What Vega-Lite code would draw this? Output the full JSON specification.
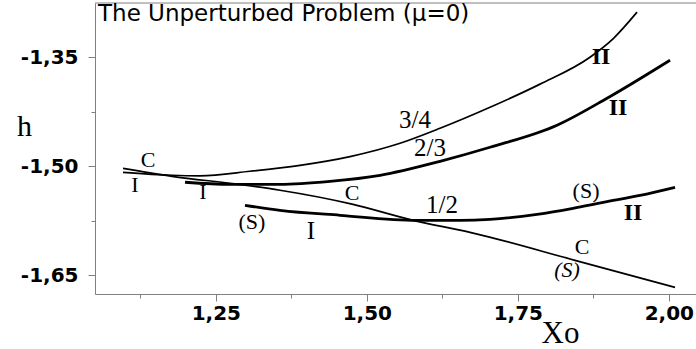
{
  "$schema": "https://vega.github.io/schema/vega-lite/v6.json",
  "width": 601,
  "height": 291,
  "autosize": {"type": "none"},
  "padding": {"left": 95, "top": 3, "right": 0, "bottom": 55},
  "background": "white",
  "config": {"view": {"stroke": null}},
  "datasets": {
    "curves": [
      {"curve": "C", "x": 1.0964, "y": -1.5027},
      {"curve": "C", "x": 1.1775, "y": -1.5137},
      {"curve": "C", "x": 1.2868, "y": -1.5247},
      {"curve": "C", "x": 1.3563, "y": -1.5329},
      {"curve": "C", "x": 1.4755, "y": -1.5520},
      {"curve": "C", "x": 1.5765, "y": -1.5742},
      {"curve": "C", "x": 1.6709, "y": -1.5907},
      {"curve": "C", "x": 1.8447, "y": -1.6292},
      {"curve": "C", "x": 2.0103, "y": -1.6664},
      {"curve": "3/4", "x": 1.0964, "y": -1.5082},
      {"curve": "3/4", "x": 1.1775, "y": -1.5123},
      {"curve": "3/4", "x": 1.2238, "y": -1.5130},
      {"curve": "3/4", "x": 1.3066, "y": -1.5068},
      {"curve": "3/4", "x": 1.3894, "y": -1.4986},
      {"curve": "3/4", "x": 1.4722, "y": -1.4866},
      {"curve": "3/4", "x": 1.5550, "y": -1.4683},
      {"curve": "3/4", "x": 1.6212, "y": -1.4477},
      {"curve": "3/4", "x": 1.7040, "y": -1.4188},
      {"curve": "3/4", "x": 1.7868, "y": -1.3870},
      {"curve": "3/4", "x": 1.8695, "y": -1.3500},
      {"curve": "3/4", "x": 1.9085, "y": -1.3240},
      {"curve": "3/4", "x": 1.9474, "y": -1.2881},
      {"curve": "2/3", "x": 1.1990, "y": -1.5219},
      {"curve": "2/3", "x": 1.2735, "y": -1.5247},
      {"curve": "2/3", "x": 1.3563, "y": -1.5247},
      {"curve": "2/3", "x": 1.4391, "y": -1.5206},
      {"curve": "2/3", "x": 1.5219, "y": -1.5123},
      {"curve": "2/3", "x": 1.6212, "y": -1.4931},
      {"curve": "2/3", "x": 1.7040, "y": -1.4738},
      {"curve": "2/3", "x": 1.8149, "y": -1.4435},
      {"curve": "2/3", "x": 1.8977, "y": -1.4064},
      {"curve": "2/3", "x": 2.0020, "y": -1.3541},
      {"curve": "1/2", "x": 1.2983, "y": -1.5536},
      {"curve": "1/2", "x": 1.3563, "y": -1.5605},
      {"curve": "1/2", "x": 1.4556, "y": -1.5673},
      {"curve": "1/2", "x": 1.5831, "y": -1.5742},
      {"curve": "1/2", "x": 1.6543, "y": -1.5742},
      {"curve": "1/2", "x": 1.7040, "y": -1.5728},
      {"curve": "1/2", "x": 1.7818, "y": -1.5660},
      {"curve": "1/2", "x": 1.8414, "y": -1.5577},
      {"curve": "1/2", "x": 1.8911, "y": -1.5495},
      {"curve": "1/2", "x": 1.9523, "y": -1.5399},
      {"curve": "1/2", "x": 2.0103, "y": -1.5288}
    ],
    "labels": [
      {"text": "C", "style": "normal", "x": 1.1377, "y": -1.4917},
      {"text": "I", "style": "normal", "x": 1.1162, "y": -1.5261},
      {"text": "I", "style": "normal", "x": 1.2288, "y": -1.5357},
      {"text": "(S)", "style": "normal", "x": 1.3099, "y": -1.5770},
      {"text": "C", "style": "normal", "x": 1.4755, "y": -1.5371},
      {"text": "(S)", "style": "normal", "x": 1.8629, "y": -1.5343},
      {"text": "C", "style": "normal", "x": 1.8563, "y": -1.6110},
      {"text": "I", "style": "big", "x": 1.4076, "y": -1.5893},
      {"text": "1/2", "style": "big", "x": 1.6245, "y": -1.5536},
      {"text": "3/4", "style": "big", "x": 1.5798, "y": -1.4367},
      {"text": "2/3", "style": "big", "x": 1.6046, "y": -1.4752},
      {"text": "II", "style": "bold", "x": 1.8877, "y": -1.3500},
      {"text": "II", "style": "bold", "x": 1.9159, "y": -1.4202},
      {"text": "II", "style": "bold", "x": 1.9407, "y": -1.5646},
      {"text": "(S)", "style": "italic", "x": 1.8315, "y": -1.6420}
    ],
    "title": [
      {"text": "The Unperturbed Problem (μ=0)", "x": 1.055, "y": -1.3005}
    ],
    "frame": [{"top": -1.2755}]
  },
  "layer": [
    {
      "data": {"name": "curves"},
      "transform": [{"filter": "datum.curve == 'C' || datum.curve == '3/4'"}],
      "mark": {"type": "line", "interpolate": "monotone", "color": "black", "strokeWidth": 1.7},
      "encoding": {
        "x": {
          "field": "x", "type": "quantitative",
          "scale": {"domain": [1.05, 2.045], "nice": false, "zero": false},
          "axis": {
            "values": [1.125, 1.25, 1.375, 1.5, 1.625, 1.75, 1.875, 2.0],
            "labelExpr": "(round(datum.value*1000) % 250 == 0) ? replace(format(datum.value, '.2f'), '.', ',') : ''",
            "tickSize": {"condition": {"test": "round(datum.value*1000) % 250 == 0", "value": 7}, "value": 4},
            "grid": false,
            "title": "Xo",
            "titleFont": "Liberation Serif",
            "titleFontSize": 31,
            "titleFontWeight": "normal",
            "titleColor": "black",
            "titleX": 465,
            "titleY": 48,
            "titleAlign": "center",
            "titleBaseline": "alphabetic",
            "labelFont": "DejaVu Sans",
            "labelFontWeight": "bold",
            "labelFontSize": 20,
            "labelColor": "black",
            "labelPadding": 2,
            "labelFlush": false,
            "labelOverlap": false,
            "domainColor": "#808080",
            "tickColor": "#808080"
          }
        },
        "y": {
          "field": "y", "type": "quantitative",
          "scale": {"domain": [-1.6755, -1.2755], "nice": false, "zero": false},
          "axis": {
            "values": [-1.65, -1.575, -1.5, -1.425, -1.35],
            "labelExpr": "(round(datum.value*1000) % 150 == 0) ? '-' + replace(format(abs(datum.value), '.2f'), '.', ',') : ''",
            "tickSize": {"condition": {"test": "round(datum.value*1000) % 150 == 0", "value": 7}, "value": 4},
            "grid": false,
            "title": "h",
            "titleAngle": 0,
            "titleFont": "Liberation Serif",
            "titleFontSize": 30,
            "titleFontWeight": "normal",
            "titleColor": "black",
            "titleX": -71,
            "titleY": 132,
            "titleAlign": "center",
            "titleBaseline": "alphabetic",
            "labelFont": "DejaVu Sans",
            "labelFontWeight": "bold",
            "labelFontSize": 20,
            "labelColor": "black",
            "labelPadding": 10,
            "labelFlush": false,
            "labelOverlap": false,
            "domainColor": "#808080",
            "tickColor": "#808080"
          }
        },
        "detail": {"field": "curve"}
      }
    },
    {
      "data": {"name": "curves"},
      "transform": [{"filter": "datum.curve == '2/3' || datum.curve == '1/2'"}],
      "mark": {"type": "line", "interpolate": "monotone", "color": "black", "strokeWidth": 2.8},
      "encoding": {
        "x": {"field": "x", "type": "quantitative"},
        "y": {"field": "y", "type": "quantitative"},
        "detail": {"field": "curve"}
      }
    },
    {
      "data": {"name": "frame"},
      "mark": {"type": "rule", "color": "#808080", "strokeWidth": 1},
      "encoding": {"y": {"field": "top", "type": "quantitative"}}
    },
    {
      "data": {"name": "title"},
      "mark": {"type": "text", "align": "left", "baseline": "alphabetic", "font": "DejaVu Sans", "fontSize": 23, "color": "black"},
      "encoding": {
        "x": {"field": "x", "type": "quantitative"},
        "y": {"field": "y", "type": "quantitative"},
        "text": {"field": "text"}
      }
    },
    {
      "data": {"name": "labels"},
      "transform": [{"filter": "datum.style == 'normal'"}],
      "mark": {"type": "text", "align": "center", "baseline": "middle", "font": "Liberation Serif", "fontSize": 22, "color": "black"},
      "encoding": {
        "x": {"field": "x", "type": "quantitative"},
        "y": {"field": "y", "type": "quantitative"},
        "text": {"field": "text"}
      }
    },
    {
      "data": {"name": "labels"},
      "transform": [{"filter": "datum.style == 'big'"}],
      "mark": {"type": "text", "align": "center", "baseline": "middle", "font": "Liberation Serif", "fontSize": 25, "color": "black"},
      "encoding": {
        "x": {"field": "x", "type": "quantitative"},
        "y": {"field": "y", "type": "quantitative"},
        "text": {"field": "text"}
      }
    },
    {
      "data": {"name": "labels"},
      "transform": [{"filter": "datum.style == 'bold'"}],
      "mark": {"type": "text", "align": "center", "baseline": "middle", "font": "Liberation Serif", "fontSize": 24, "fontWeight": "bold", "color": "black"},
      "encoding": {
        "x": {"field": "x", "type": "quantitative"},
        "y": {"field": "y", "type": "quantitative"},
        "text": {"field": "text"}
      }
    },
    {
      "data": {"name": "labels"},
      "transform": [{"filter": "datum.style == 'italic'"}],
      "mark": {"type": "text", "align": "center", "baseline": "middle", "font": "Liberation Serif", "fontSize": 22, "fontStyle": "italic", "color": "black"},
      "encoding": {
        "x": {"field": "x", "type": "quantitative"},
        "y": {"field": "y", "type": "quantitative"},
        "text": {"field": "text"}
      }
    }
  ]
}
